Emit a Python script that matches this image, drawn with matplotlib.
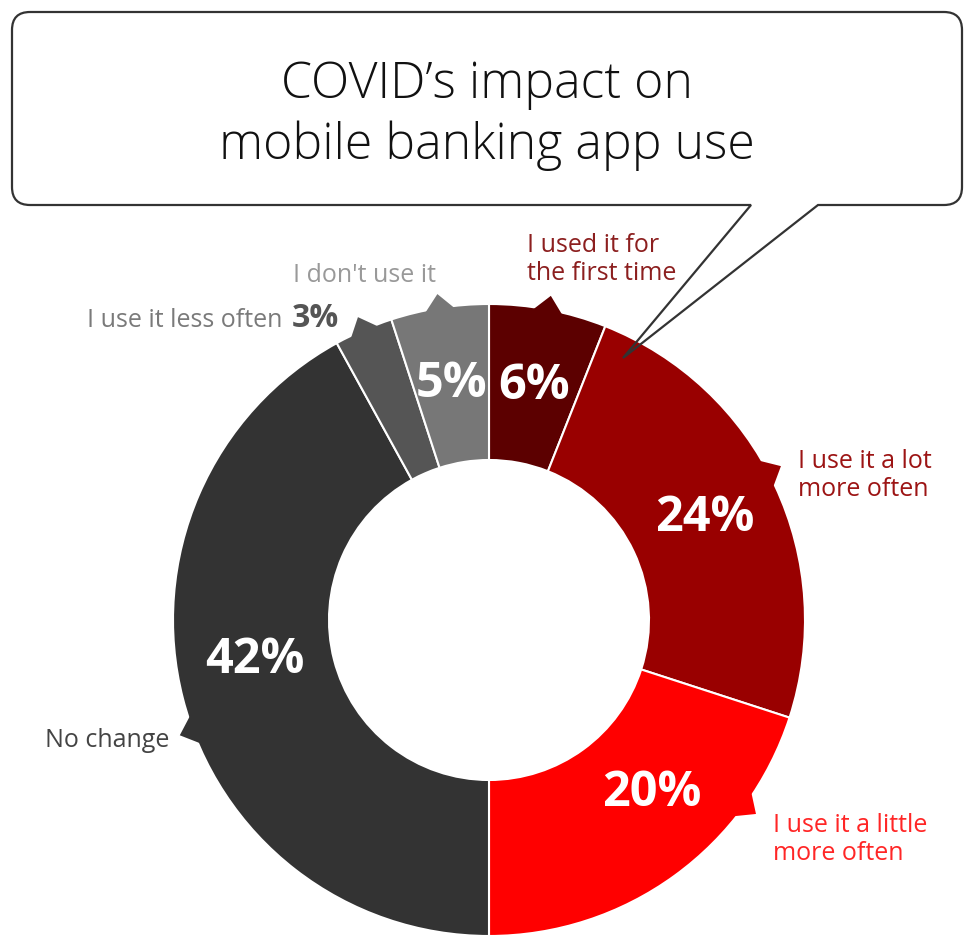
import numpy as np
import matplotlib
matplotlib.use("Agg")
from matplotlib import pyplot as plt
from matplotlib.patches import Polygon, PathPatch
from matplotlib.path import Path

plt.rcParams['font.family'] = ['Open Sans', 'DejaVu Sans']

# Survey answers, clockwise from 12 o'clock
answers = ['I used it for\nthe first time', 'I use it a lot\nmore often',
           'I use it a little\nmore often', 'No change',
           'I use it less often', "I don't use it"]
shares = [6, 24, 20, 42, 3, 5]
title_lines = ['COVID\u2019s impact on', 'mobile banking app use']

slice_colors = ['#5c0000', '#990000', '#ff0000', '#333333', '#555555', '#777777']
label_colors = ['#8c1f1f', '#9c1414', '#ff2626', '#444444', '#7a7a7a', '#999999']

W, H = 965, 938
CX, CY = 489, H - 620
R_OUT, RING = 316, 156

# where along each wedge the little pointer and the % label sit (0..1)
tab_frac = [0.5, 0.53, 0.75, 0.54, 0.5, 0.5]
pct_frac = [0.5, 0.5, 0.6, 0.47, None, 0.5]
# outside label anchors (left x, first baseline) in pixels from the top-left
label_pos = [(527, 252), (798, 468), (773, 832), (45, 747), (87, 327), (293, 282)]

fig = plt.figure(figsize=(W / 100, H / 100), dpi=100)
ax = fig.add_axes([0, 0, 1, 1])

wedges, _ = ax.pie(shares, colors=slice_colors, startangle=90, counterclock=False,
                   radius=R_OUT, center=(CX, CY),
                   wedgeprops=dict(width=RING, edgecolor='white', linewidth=1.5))
ax.set_xlim(0, W)
ax.set_ylim(0, H)
ax.set_aspect('auto')
ax.axis('off')

r_mid = R_OUT - RING / 2
for w, c, tf, pf, val in zip(wedges, slice_colors, tab_frac, pct_frac, shares):
    t1, t2 = w.theta1, w.theta2
    # small pointer sticking out of the rim
    a = np.radians(t1 + tf * (t2 - t1))
    da = np.radians(3.4)
    pts = [(CX + (R_OUT - 6) * np.cos(a - da), CY + (R_OUT - 6) * np.sin(a - da)),
           (CX + (R_OUT + 14) * np.cos(a), CY + (R_OUT + 14) * np.sin(a)),
           (CX + (R_OUT - 6) * np.cos(a + da), CY + (R_OUT - 6) * np.sin(a + da))]
    ax.add_patch(Polygon(pts, closed=True, facecolor=c, edgecolor='none', zorder=2))
    if pf is not None:
        b = np.radians(t1 + pf * (t2 - t1))
        ax.text(CX + r_mid * np.cos(b), CY + r_mid * np.sin(b), f'{val}%',
                ha='center', va='center', color='white', fontsize=35,
                fontweight='bold', zorder=3)

# outside labels
for txt, col, (lx, ly) in zip(answers, label_colors, label_pos):
    for k, line in enumerate(txt.split('\n')):
        ax.text(lx, H - (ly + 28 * k), line, ha='left', va='baseline',
                color=col, fontsize=18)
ax.text(292, H - 327, f'{shares[4]}%', ha='left', va='baseline',
        color='#555555', fontsize=23, fontweight='bold')

# speech bubble around the title
x0, x1, y0, y1, rc = 12, 962, H - 205, H - 12, 18
tail_l, tail_r, tip = 751, 818, (623, H - 358)
verts = [(x0 + rc, y1), (x1 - rc, y1), (x1, y1), (x1, y1 - rc), (x1, y0 + rc),
         (x1, y0), (x1 - rc, y0), (tail_r, y0), tip, (tail_l, y0), (x0 + rc, y0),
         (x0, y0), (x0, y0 + rc), (x0, y1 - rc), (x0, y1), (x0 + rc, y1)]
codes = [Path.MOVETO, Path.LINETO, Path.CURVE3, Path.CURVE3, Path.LINETO,
         Path.CURVE3, Path.CURVE3, Path.LINETO, Path.LINETO, Path.LINETO, Path.LINETO,
         Path.CURVE3, Path.CURVE3, Path.LINETO, Path.CURVE3, Path.CURVE3]
ax.add_patch(PathPatch(Path(verts, codes), facecolor='none', edgecolor='#333333',
                       linewidth=1.6, zorder=4))

for k, line in enumerate(title_lines):
    ax.text(487, H - (98 + 61 * k), line, ha='center', va='baseline',
            color='#111111', fontsize=36, fontweight='light')

fig.savefig('out.png', dpi=100, facecolor='white')
